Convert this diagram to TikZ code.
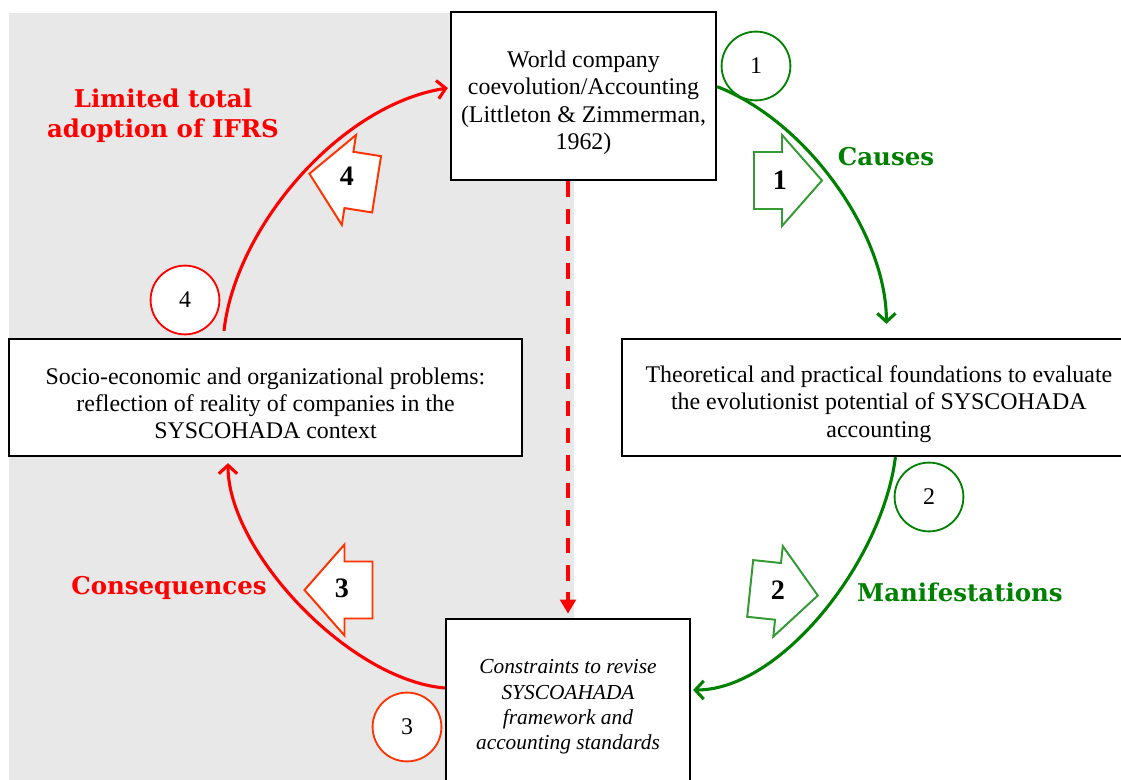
\documentclass[tikz,border=0pt]{standalone}
\usepackage{fontspec}
\setmainfont{Liberation Serif}
\newfontfamily\tagfont{DejaVu Serif}
\usepackage{tikz}
\usetikzlibrary{arrows.meta, positioning, calc}
\usepackage{xcolor}

\definecolor{causegreen}{RGB}{0,128,0}
\definecolor{blockgreen}{RGB}{52,154,52}
\definecolor{consred}{RGB}{255,0,0}
\definecolor{blockred}{RGB}{255,51,0}
\definecolor{bggray}{RGB}{232,232,232}

\begin{document}
\begin{tikzpicture}[x=0.025cm, y=-0.025cm, >={Straight Barb[length=6pt,width=13pt]}]
    \tikzstyle{stage} = [draw, fill=white, line width=1.6pt, text centered, align=center, inner sep=0pt, font=\fontsize{17}{19.5}\selectfont]
    \tikzstyle{numdisc} = [circle, draw, fill=white, line width=1.3pt, minimum size=1.72cm, inner sep=0pt, font=\fontsize{17}{17}\selectfont]
    \tikzstyle{tag} = [align=center, font=\tagfont\bfseries\fontsize{17.4}{21.5}\selectfont]
    \tikzstyle{flow} = [->, line width=2.2pt]
    \tikzstyle{blocknum} = [font=\bfseries\fontsize{20}{20}\selectfont]
    \tikzset{blockarrow/.pic={
        \draw[line width=1.4pt, fill=white] (-34,-28.5) -- (-6,-28.5) -- (-6,-45.5) -- (34,0)
            -- (-6,45.5) -- (-6,28.5) -- (-34,28.5) -- cycle;
    }}
    \useasboundingbox (0,0) rectangle (1121,780);
    \fill[bggray] (9,13) rectangle (574,780);

    \node [stage, minimum width=6.625cm, minimum height=4.2cm, text height=80pt] (world) at (583.5,96) {World company\\coevolution/Accounting\\(Littleton \& Zimmerman,\\1962)};
    \node [stage, minimum width=12.825cm, minimum height=2.925cm, text height=59pt] (socio) at (265.5,397.5) {Socio-economic and organizational problems:\\reflection of reality of companies in the\\SYSCOHADA context};
    \node [stage, minimum width=12.825cm, minimum height=2.925cm, text height=60pt, right=2.45cm of socio] (theo) {Theoretical and practical foundations to evaluate\\the evolutionist potential of SYSCOHADA\\accounting};
    \node [stage, minimum width=6.1cm, minimum height=4.4cm, font=\itshape\fontsize{15.2}{18}\selectfont] (constr) at (568,707) {Constraints to revise\\SYSCOAHADA\\framework and\\accounting standards};

    % cycle arcs
    \draw[flow, causegreen] (world.4) .. controls +(90,35) and +(0,-90) .. ($(theo.north)+(7.5,-14)$);
    \draw[flow, causegreen] ($(theo.south)+(16.5,0)$) .. controls +(-13,104) and +(88,0) .. ($(constr.east)+(2,-17)$);
    \draw[flow, consred] ($(constr.west)+(0,-19)$) .. controls +(-96,-8) and +(0,88) .. ($(socio.south)+(-37.5,6)$);
    \draw[flow, consred] ($(socio.north)+(-41.5,-7)$) .. controls +(11,-102) and +(-109,17) .. ($(world.west)+(-2,-8)$);
    \draw[->, >={Triangle[length=10pt,width=11pt]}, consred, line width=2.5pt, dash pattern=on 11pt off 8.5pt, shorten >=3pt] (world.south -| constr.north) -- (constr.north);

    % numbered discs
    \node [numdisc, draw=causegreen] (discone) at (756,66) {1};
    \node [numdisc, draw=causegreen] (disctwo) at (929,497) {2};
    \node [numdisc, draw=blockred] (discthree) at (407,727) {3};
    \node [numdisc, draw=consred] (discfour) at (185,300) {4};

    % block arrows
    \pic [color=blockgreen] at (788,180.5) {blockarrow};
    \pic [color=blockgreen, rotate=-6] at (784,592) {blockarrow};
    \pic [color=blockred, rotate=180] at (338.5,590) {blockarrow};
    \pic [color=blockred, rotate=171] at (343,179) {blockarrow};
    \node [blocknum] (numone) at (780,180) {1};
    \node [blocknum] (numtwo) at (778,590) {2};
    \node [blocknum] (numthree) at (342,588) {3};
    \node [blocknum] (numfour) at (347,176) {4};

    % labels
    \node [tag, consred] (limited) at (163,116) {Limited total\\adoption of IFRS};
    \node [tag, causegreen] (causes) at (886,157) {Causes};
    \node [tag, causegreen] (manif) at (960,592) {Manifestations};
    \node [tag, consred] (conseq) at (169,588) {Consequences};
\end{tikzpicture}
\end{document}
